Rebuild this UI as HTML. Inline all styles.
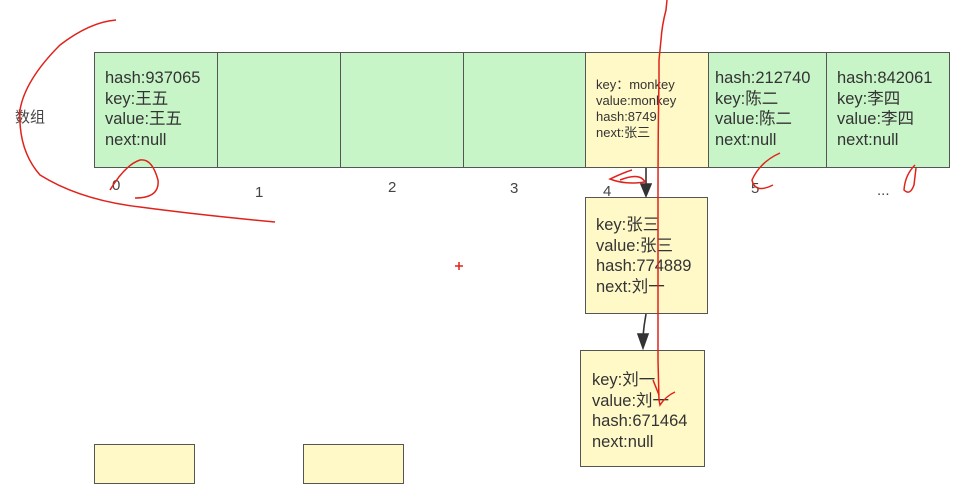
<!DOCTYPE html>
<html><head><meta charset="utf-8"><style>
body{margin:0;background:#fff;width:964px;height:472px;overflow:hidden;position:relative;font-family:"Liberation Sans","Noto Sans CJK SC",sans-serif;color:#333}
.c{position:absolute;box-sizing:border-box;border:1.5px solid #555;background:#c8f5c8}
.y{background:#fff9c8}
.t{position:absolute;font-size:16.5px;line-height:20.5px}
.s{font-size:13px;line-height:16px}
.l{position:absolute;font-size:15px;color:#444}
</style></head><body>
<div class="c" style="left:94px;top:52px;width:124px;height:116px"></div>
<div class="c" style="left:217px;top:52px;width:124px;height:116px"></div>
<div class="c" style="left:340px;top:52px;width:124px;height:116px"></div>
<div class="c" style="left:463px;top:52px;width:123px;height:116px"></div>
<div class="c y" style="left:585px;top:52px;width:124px;height:116px"></div>
<div class="c" style="left:708px;top:52px;width:119px;height:116px"></div>
<div class="c" style="left:826px;top:52px;width:124px;height:116px"></div>
<div class="c y" style="left:585px;top:197px;width:123px;height:117px"></div>
<div class="c y" style="left:580px;top:350px;width:125px;height:117px"></div>
<div class="c y" style="left:94px;top:444px;width:101px;height:40px"></div>
<div class="c y" style="left:303px;top:444px;width:101px;height:40px"></div>
<div class="t" style="left:105px;top:68px">hash:937065<br>key:王五<br>value:王五<br>next:null</div>
<div class="t s" style="left:596px;top:77px">key：monkey<br>value:monkey<br>hash:8749<br>next:张三</div>
<div class="t" style="left:715px;top:68px">hash:212740<br>key:陈二<br>value:陈二<br>next:null</div>
<div class="t" style="left:837px;top:68px">hash:842061<br>key:李四<br>value:李四<br>next:null</div>
<div class="t" style="left:596px;top:215px">key:张三<br>value:张三<br>hash:774889<br>next:刘一</div>
<div class="t" style="left:592px;top:370px">key:刘一<br>value:刘一<br>hash:671464<br>next:null</div>
<div class="l" style="left:15px;top:106px">数组</div>
<div class="l" style="left:112px;top:177px">0</div>
<div class="l" style="left:255px;top:184px">1</div>
<div class="l" style="left:388px;top:179px">2</div>
<div class="l" style="left:510px;top:180px">3</div>
<div class="l" style="left:603px;top:183px">4</div>
<div class="l" style="left:751px;top:180px">5</div>
<div class="l" style="left:877px;top:182px">...</div>
<svg width="964" height="472" style="position:absolute;left:0;top:0">
<g stroke="#333" stroke-width="1.6" fill="#333">
<line x1="646" y1="168" x2="646" y2="186"/><polygon points="641,184 651,184 646,196"/>
<path d="M646 314 Q644 325 643 336" fill="none"/><polygon points="638,334 648,334 643,348"/>
</g>
<g stroke="#e0231a" stroke-width="1.5" fill="none">
<path d="M667 0 L666 10 Q662 25 661 40 L659 60 L659 80 Q658 130 658 200 L658 360 L659 400"/>
<path d="M659 400 L660 405 Q666 396 675 392"/>
<path d="M653 380 Q655 385 659 395"/>
<path d="M116 20 Q90 22 60 45 Q25 80 20 110 Q18 150 40 175 Q80 200 140 207 Q200 215 275 222"/>
<path d="M135 198 Q160 198 158 180 Q152 158 140 160 Q125 165 110 190"/>
<path d="M620 180 Q640 172 645 182 Q625 185 610 179 Q625 172 632 170"/>
<path d="M780 153 Q760 162 752 180 Q755 194 773 185"/>
<path d="M915 165 Q905 175 904 190 Q910 196 914 185 L916 168"/>
<line x1="455" y1="266" x2="463" y2="266"/><line x1="459" y1="262" x2="459" y2="270"/>
</g>
</svg>
</body></html>
